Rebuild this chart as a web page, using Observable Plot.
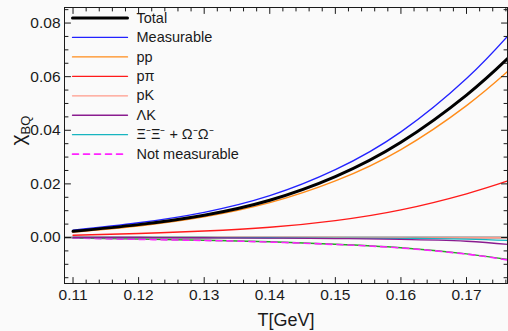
<!DOCTYPE html>
<html>
<head>
<meta charset="utf-8">
<script src="https://cdn.jsdelivr.net/npm/d3@7"></script>
<script src="https://cdn.jsdelivr.net/npm/@observablehq/plot@0.6"></script>
<style>
  html, body { margin: 0; padding: 0; background: #fafafa; }
  #chart { width: 508px; height: 331px; }
</style>
</head>
<body>
<div id="chart"></div>
<script>
// Temperature grid (GeV)
const T = [0.11, 0.12, 0.13, 0.14, 0.15, 0.16, 0.17, 0.1763];

// Baryon–charge correlator contributions chi_BQ
const total        = [0.0023, 0.0048, 0.0083, 0.0139, 0.0227, 0.0355, 0.0531, 0.0668];
const measurable   = [0.0027, 0.0055, 0.0094, 0.0156, 0.0253, 0.0394, 0.0593, 0.0752];
const pp           = [0.0020, 0.0043, 0.0077, 0.0130, 0.0211, 0.0328, 0.0492, 0.0620];
const ppi          = [0.00085, 0.0015, 0.0024, 0.0038, 0.0063, 0.0103, 0.0163, 0.0211];
const pK           = [0.0000, 0.0000, 0.0000, 0.0000, 0.0000, -0.0001, -0.0001, -0.0001];
const lambdaK      = [0.0000, 0.0000, -0.0001, -0.0002, -0.0004, -0.0007, -0.0014, -0.0026];
const xiOmega      = [0.0000, 0.0000, 0.0000, -0.0001, -0.0002, -0.0003, -0.0006, -0.0011];
const otherHadrons = [-0.0002, -0.0006, -0.0010, -0.0016, -0.0025, -0.0038, -0.0061, -0.0082];
const notMeasurable= [-0.0002, -0.0007, -0.0011, -0.0017, -0.0026, -0.0039, -0.0062, -0.0084];

// Axis ticks
const xMajor = [0.11, 0.12, 0.13, 0.14, 0.15, 0.16, 0.17];
const xMinor = d3.range(0.110, 0.1765, 0.002).filter(v => !xMajor.some(m => Math.abs(m - v) < 1e-6));
const yMajor = [0.00, 0.02, 0.04, 0.06, 0.08];
const yMinor = d3.range(-0.015, 0.0851, 0.005).filter(v => !yMajor.some(m => Math.abs(m - v) < 1e-6));

// Series styling, drawn back to front
const series = [
  {name: "Other", values: otherHadrons, color: "#22aa22", width: 1.4},
  {name: "Not measurable", values: notMeasurable, color: "#ff22ff", width: 1.6, dash: "6,5", legend: true},
  {name: "pK", values: pK, color: "#ff9a8a", width: 1.3, legend: true},
  {name: "Ξ⁻Ξ⁻ + Ω⁻Ω⁻", values: xiOmega, color: "#17b5c0", width: 1.3, legend: true},
  {name: "ΛK", values: lambdaK, color: "#8a1c8f", width: 1.3, legend: true},
  {name: "pπ", values: ppi, color: "#ff1a1a", width: 1.4, legend: true},
  {name: "pp", values: pp, color: "#ff8c1a", width: 1.4, legend: true},
  {name: "Measurable", values: measurable, color: "#2222ff", width: 1.3, legend: true},
  {name: "Total", values: total, color: "#000000", width: 3, legend: true}
];
const legendOrder = ["Total", "Measurable", "pp", "pπ", "pK", "ΛK", "Ξ⁻Ξ⁻ + Ω⁻Ω⁻", "Not measurable"];

const tickShape = {draw(ctx, l) { ctx.moveTo(0, 0); ctx.lineTo(0, -l); }};
const lineShape = tickShape;
const ink = "#1a1a1a";

function edgeTicks(values, channel, frameAnchor, rotate, length) {
  return Plot.vector(values, {
    [channel]: d => d, frameAnchor, rotate, length, anchor: "start",
    shape: tickShape, stroke: ink, strokeWidth: 1
  });
}

const marks = [
  Plot.ruleY([0], {stroke: "#7a7a7a", strokeWidth: 2.2}),
  ...series.map(s => Plot.line(T.map((t, i) => ({t, v: s.values[i]})), {
    x: "t", y: "v", stroke: s.color, strokeWidth: s.width,
    strokeDasharray: s.dash, curve: "natural"
  })),
  Plot.frame({stroke: ink, strokeWidth: 1}),
  // inward ticks on all four edges
  edgeTicks(xMajor, "x", "bottom", 0, 6),
  edgeTicks(xMinor, "x", "bottom", 0, 3.5),
  edgeTicks(xMajor, "x", "top", 180, 6),
  edgeTicks(xMinor, "x", "top", 180, 3.5),
  edgeTicks(yMajor, "y", "left", 90, 6),
  edgeTicks(yMinor, "y", "left", 90, 3.5),
  edgeTicks(yMajor, "y", "right", -90, 6),
  edgeTicks(yMinor, "y", "right", -90, 3.5),
  Plot.axisX(xMajor, {tickSize: 0, tickPadding: 5, tickFormat: d3.format(".2f"), label: null, fill: ink}),
  Plot.axisY(yMajor, {tickSize: 0, tickPadding: 4, tickFormat: d3.format(".2f"), label: null, fill: ink}),
  Plot.text(["T[GeV]"], {frameAnchor: "bottom", dy: 37, lineAnchor: "middle", fontSize: 18, fill: ink}),
  Plot.text(["χ"], {frameAnchor: "left", dx: -46, rotate: -90, lineAnchor: "middle", fontSize: 21, fill: ink, className: "ylab"})
];

// Legend in the upper-left corner of the frame
legendOrder.forEach((name, i) => {
  const s = series.find(d => d.name === name);
  const rowY = 10.5 + 19.45 * i;
  marks.push(Plot.vector([0], {
    frameAnchor: "top-left", dx: 8, dy: rowY, rotate: 90, length: 55, anchor: "start",
    shape: lineShape, stroke: s.color, strokeWidth: s.width, strokeDasharray: s.dash
  }));
  marks.push(Plot.text([name], {
    frameAnchor: "top-left", dx: 72, dy: rowY, textAnchor: "start", lineAnchor: "middle",
    fontSize: 14.5, fill: ink
  }));
});

const chart = Plot.plot({
  width: 508,
  height: 331,
  marginLeft: 64,
  marginRight: 1,
  marginTop: 7,
  marginBottom: 48,
  x: {domain: [0.1087, 0.17625]},
  y: {domain: [-0.01716, 0.0858]},
  style: {background: "#fafafa", fontFamily: "'Liberation Sans', Arial, sans-serif", fontSize: "15.5px", color: ink},
  marks
});

// subscript on the y-axis symbol
d3.select(chart).selectAll("g.ylab text")
  .html('χ<tspan dy="0.35em" font-size="13">BQ</tspan>');

document.getElementById("chart").appendChild(chart);
</script>
</body>
</html>
